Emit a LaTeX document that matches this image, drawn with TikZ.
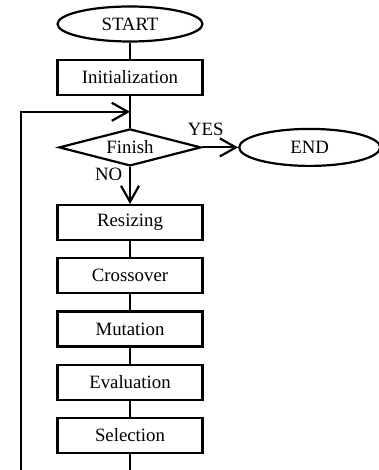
\documentclass[tikz,border=0pt]{standalone}
\usepackage{fontspec}
\setmainfont{Liberation Serif}
\usetikzlibrary{shapes.geometric,arrows.meta,positioning,calc}

\tikzset{
  box/.style={draw, line width=1.1pt, minimum width=72.5pt, minimum height=17.5pt, inner sep=0pt},
  term/.style={draw, ellipse, line width=1.1pt, minimum width=72.5pt, minimum height=17.5pt, inner sep=0pt},
  decision/.style={draw, diamond, shape aspect=3.8, line width=1.1pt, minimum width=71pt, minimum height=18.5pt, inner sep=0pt},
  link/.style={line width=1.1pt},
  flow/.style={line width=1.1pt, -{Straight Barb[length=8pt,width=9pt]}}
}

\begin{document}
\begin{tikzpicture}[x=0.5pt, y=-0.5pt, font=\fontsize{9.4}{11}\selectfont]
  % page frame
  \clip (0,0) rectangle (379,470);
  % start and decision
  \node[term] (start) at (130,24) {START};
  \node[box, below=8pt of start] (init) {Initialization};
  \node[decision, below=16pt of init] (finish) {Finish};
  \node[term, right=18pt of finish, minimum width=70.5pt, minimum height=18.5pt] (end) {END};
  % loop body
  \node[box, below=18.5pt of finish] (resize) {Resizing};
  \node[box, below=8pt of resize] (cross) {Crossover};
  \node[box, below=8pt of cross] (mutate) {Mutation};
  \node[box, below=8pt of mutate] (eval) {Evaluation};
  \node[box, below=8pt of eval] (select) {Selection};
  % connectors
  \draw[link] (start) -- (init);
  \draw[link] (init) -- (finish);
  \draw[flow] (finish) -- node[above=2pt, pos=0.1] {YES} (end);
  \draw[flow] (finish) -- node[left, pos=0.2] {NO} (resize);
  \draw[link] (resize) -- (cross);
  \draw[link] (cross) -- (mutate);
  \draw[link] (mutate) -- (eval);
  \draw[link] (eval) -- (select);
  % loop back
  \coordinate (merge) at ($(init.south)!0.5!(finish.north)$);
  \coordinate (corner) at (21,520);
  \draw[flow] (select.south) |- (corner) |- (merge);
\end{tikzpicture}
\end{document}
